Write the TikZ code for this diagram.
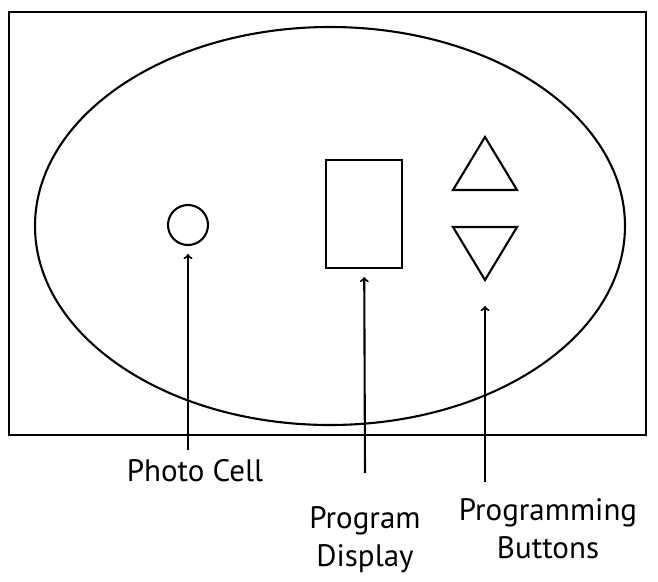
\documentclass[tikz,border=0pt]{standalone}
\usepackage{fontspec}
\setmainfont{PT Sans}
\usetikzlibrary{arrows,positioning}

\begin{document}
\begin{tikzpicture}[x=1pt,y=-1pt,line width=2.1pt]
    \tikzstyle{every node}+=[inner sep=0pt]
    \tikzstyle{lbl}=[align=center,font=\fontsize{31}{38}\selectfont]
    \tikzstyle{pointer}=[->,shorten >=8pt]
    \useasboundingbox (0,0) rectangle (658,581);
    % housing
    \draw (9,12) rectangle (646,435);
    \draw (330,226) ellipse (295 and 199);
    % parts
    \node [draw,circle,minimum size=40] (cell) at (188,225) {};
    \node [draw,minimum width=76,minimum height=108] (disp) at (364,214) {};
    \draw (453,190) -- (485,137) -- (517,190) -- cycle;
    \draw (453,227) -- (517,227) -- (485,280) -- cycle;
    \coordinate (btn) at (485,280);
    % labels
    \node [lbl] (celltxt) at (195,471) {Photo Cell};
    \node [lbl] (disptxt) at (365,540) {Program\\Display};
    \node [lbl] (btntxt) at (548,529) {Programming\\Buttons};
    \coordinate (cellfoot) at (188,450);
    \coordinate (dispfoot) at (365,473);
    \coordinate (btnfoot) at (485,482);
    % pointers
    \draw [pointer] (cellfoot) -- (cell);
    \draw [pointer] (dispfoot) -- (disp);
    \draw [pointer,shorten >=26pt] (btnfoot) -- (btn);
\end{tikzpicture}
\end{document}
